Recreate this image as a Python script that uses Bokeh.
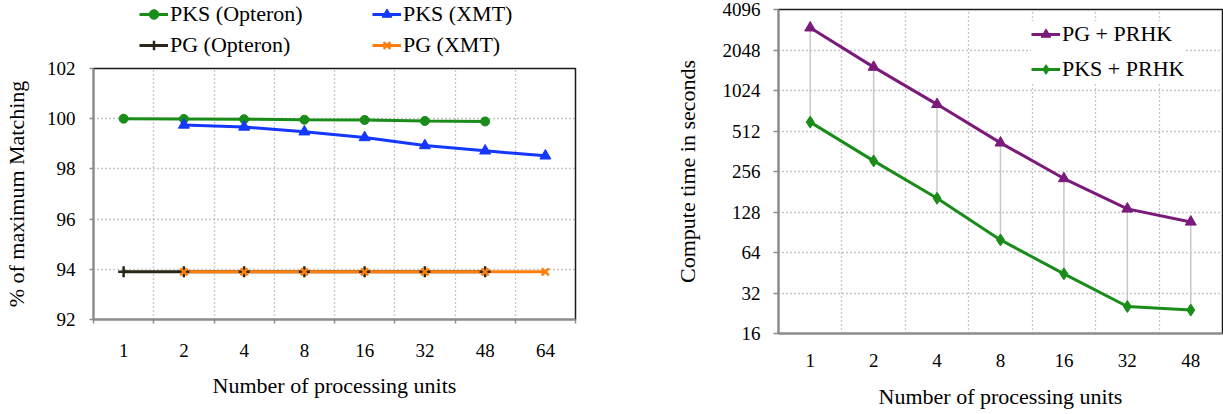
from bokeh.plotting import figure
from bokeh.models import FixedTicker, Legend, LegendItem, Range1d
from bokeh.layouts import row, column
from bokeh.embed import file_html
from bokeh.resources import INLINE

# ---------------- data ----------------
units_left = ["1", "2", "4", "8", "16", "32", "48", "64"]
opteron_units = ["1", "2", "4", "8", "16", "32", "48"]
xmt_units = ["2", "4", "8", "16", "32", "48", "64"]
pks_opteron = [100.0, 99.99, 99.98, 99.96, 99.95, 99.91, 99.89]
pks_xmt = [99.75, 99.67, 99.48, 99.25, 98.93, 98.72, 98.52]
pg_opteron = [93.9, 93.9, 93.9, 93.9, 93.9, 93.9, 93.9]
pg_xmt = [93.9, 93.9, 93.9, 93.9, 93.9, 93.9, 93.9]
y_ticks_left = [92, 94, 96, 98, 100, 102]
series_left = ["PKS (Opteron)", "PKS (XMT)", "PG (Opteron)", "PG (XMT)"]

units_right = ["1", "2", "4", "8", "16", "32", "48"]
pg_prhk = [2995, 1528, 808, 418, 227, 135, 108]
pks_prhk = [596, 307, 162, 79.4, 44.4, 25.4, 23.9]
y_ticks_right = [16, 32, 64, 128, 256, 512, 1024, 2048, 4096]
series_right = ["PG + PRHK", "PKS + PRHK"]

FONT = "Liberation Serif"
GREEN = "#1a8c1a"
BLUE = "#1438ff"
DARK = "#2a2718"
ORANGE = "#ff7f0a"
PURPLE = "#7b1a7b"
GRID = "#8f8f8f"
AXIS = "#8c8c8c"

xo = [units_left.index(u) for u in opteron_units]
xx = [units_left.index(u) for u in xmt_units]

# (x, y, colour, marker, size, filled) per left series
left_series = [
    (xo, pks_opteron, GREEN, "circle", 9, True),
    (xx, pks_xmt, BLUE, "triangle", 11, True),
    (xo, pg_opteron, DARK, "cross", 11, False),
    (xx, pg_xmt, ORANGE, "x", 10, False),
]


def style(p, n_cat):
    p.frame_align = False
    p.outline_line_color = "#1a1a1a"
    p.outline_line_width = 1.5
    p.background_fill_color = "white"
    p.border_fill_color = "white"
    for ax in (p.xaxis[0], p.yaxis[0]):
        ax.axis_line_color = AXIS
        ax.axis_line_width = 2
        ax.major_tick_line_color = AXIS
        ax.minor_tick_line_color = AXIS
        ax.major_tick_line_width = 1.5
        ax.minor_tick_line_width = 1.5
        ax.major_label_text_font = FONT
        ax.major_label_text_font_size = "19px"
        ax.major_label_text_color = "black"
        ax.axis_label_text_font = FONT
        ax.axis_label_text_font_size = "22px"
        ax.axis_label_text_font_style = "normal"
        ax.axis_label_text_color = "black"
    p.xaxis.ticker = FixedTicker(ticks=list(range(n_cat)),
                                 minor_ticks=[i + 0.5 for i in range(-1, n_cat)])
    p.xaxis.major_tick_in = 0
    p.xaxis.major_tick_out = 0
    p.xaxis.minor_tick_in = 0
    p.yaxis.major_tick_in = 0
    p.yaxis.minor_tick_out = 0
    p.yaxis.minor_tick_in = 0
    p.xgrid.ticker = FixedTicker(ticks=[i + 0.5 for i in range(n_cat - 1)])
    for g in (p.xgrid[0], p.ygrid[0]):
        g.grid_line_color = GRID
        g.grid_line_dash = "1 3"
        g.grid_line_width = 1.3


def add_line(p, xs, ys, colour):
    return p.line(xs, ys, line_color=colour, line_width=3)


def add_marks(p, xs, ys, colour, marker, size, filled):
    if filled:
        return p.scatter(xs, ys, marker=marker, size=size, fill_color=colour, line_color=colour)
    return p.scatter(xs, ys, marker=marker, size=size, line_color=colour, line_width=2.5)


# ---------------- legend strip above the left chart ----------------
# (its renderers use the same series, but the strip's ranges keep them out of view)
pleg = figure(width=610, height=58, x_range=Range1d(0, 1), y_range=Range1d(0, 1),
              output_backend="svg", toolbar_location=None,
              x_axis_location=None, y_axis_location=None,
              min_border_left=0, min_border_right=0, min_border_top=0, min_border_bottom=0)
pleg.frame_align = False
pleg.grid.visible = False
pleg.outline_line_color = None
leg_items = []
for name, (xs, ys, c, mkr, sz, filled) in zip(series_left, left_series):
    ln = add_line(pleg, xs, ys, c)
    mk = add_marks(pleg, xs, ys, c, mkr, sz, filled)
    leg_items.append(LegendItem(label=name, renderers=[ln, mk]))
leg1 = Legend(items=leg_items, orientation="horizontal", ncols=2, location=(139, 0))
leg1.label_text_font = FONT
leg1.label_text_font_size = "22px"
leg1.label_text_color = "black"
leg1.glyph_width = 29
leg1.glyph_height = 24
leg1.label_height = 24
leg1.label_width = 197
leg1.label_standoff = 2
leg1.spacing = 5
leg1.padding = 0
leg1.margin = 0
leg1.border_line_color = None
leg1.background_fill_alpha = 0
pleg.add_layout(leg1, "center")

# ---------------- left chart ----------------
p1 = figure(width=610, height=356, x_range=Range1d(-0.5, len(units_left) - 0.5),
            y_range=Range1d(92, 102), output_backend="svg", toolbar_location=None,
            min_border_left=91, min_border_right=35, min_border_top=10, min_border_bottom=95)
style(p1, len(units_left))
p1.xaxis.major_label_overrides = {i: u for i, u in enumerate(units_left)}
p1.xaxis.minor_tick_out = 4
p1.xaxis.major_label_standoff = 20
p1.xaxis.axis_label = "Number of processing units"
p1.xaxis.axis_label_standoff = 13
p1.yaxis.ticker = FixedTicker(ticks=y_ticks_left)
p1.yaxis.major_tick_out = 4
p1.yaxis.major_label_standoff = 14
p1.yaxis.axis_label = "% of maximum Matching"
p1.yaxis.axis_label_standoff = 15

lines = [add_line(p1, xs, ys, c) for (xs, ys, c, _, _, _) in left_series[:2]]
marks = [add_marks(p1, xs, ys, c, m, s, f) for (xs, ys, c, m, s, f) in left_series[:2]]
# PG series: both lines first, then markers so the black crosses show through
for (xs, ys, c, _, _, _) in left_series[2:]:
    add_line(p1, xs, ys, c)
for (xs, ys, c, m, s, f) in left_series[2:]:
    add_marks(p1, xs, ys, c, m, s, f)

# ---------------- right chart ----------------
p2 = figure(width=613, height=414, x_range=Range1d(-0.5, len(units_right) - 0.5),
            y_range=Range1d(16, 4096), y_axis_type="log", output_backend="svg",
            toolbar_location=None,
            min_border_left=168, min_border_right=1, min_border_top=9, min_border_bottom=81)
style(p2, len(units_right))
p2.xaxis.major_label_overrides = {i: u for i, u in enumerate(units_right)}
p2.xaxis.minor_tick_out = 0
p2.xaxis.major_label_standoff = 20
p2.xaxis.axis_label = "Number of processing units"
p2.xaxis.axis_label_standoff = 14
p2.yaxis.ticker = FixedTicker(ticks=y_ticks_right)
p2.yaxis.major_label_overrides = {t: str(t) for t in y_ticks_right}
p2.yaxis.major_tick_out = 5
p2.yaxis.major_label_standoff = 13
p2.yaxis.axis_label = "Compute time in seconds"
p2.yaxis.axis_label_standoff = 20

xr = [units_right.index(u) for u in units_right]
p2.segment(x0=xr, y0=pks_prhk, x1=xr, y1=pg_prhk, line_color="#c8c8c8", line_width=1.5)
l_pg = add_line(p2, xr, pg_prhk, PURPLE)
m_pg = add_marks(p2, xr, pg_prhk, PURPLE, "triangle", 11, True)
l_pks = add_line(p2, xr, pks_prhk, GREEN)
m_pks = add_marks(p2, xr, pks_prhk, GREEN, "diamond", 12, True)

leg2 = Legend(items=[
    LegendItem(label=series_right[0], renderers=[l_pg, m_pg]),
    LegendItem(label=series_right[1], renderers=[l_pks, m_pks]),
], orientation="vertical", location=(253, 251))
leg2.label_text_font = FONT
leg2.label_text_font_size = "22px"
leg2.label_text_color = "black"
leg2.glyph_width = 29
leg2.glyph_height = 24
leg2.label_height = 24
leg2.label_standoff = 2
leg2.spacing = 9
leg2.padding = 10
leg2.margin = 0
leg2.border_line_color = None
leg2.background_fill_color = "white"
leg2.background_fill_alpha = 1
p2.add_layout(leg2, "center")

layout = row(column(pleg, p1), p2)
open("out.html", "w").write(file_html(layout, INLINE))
